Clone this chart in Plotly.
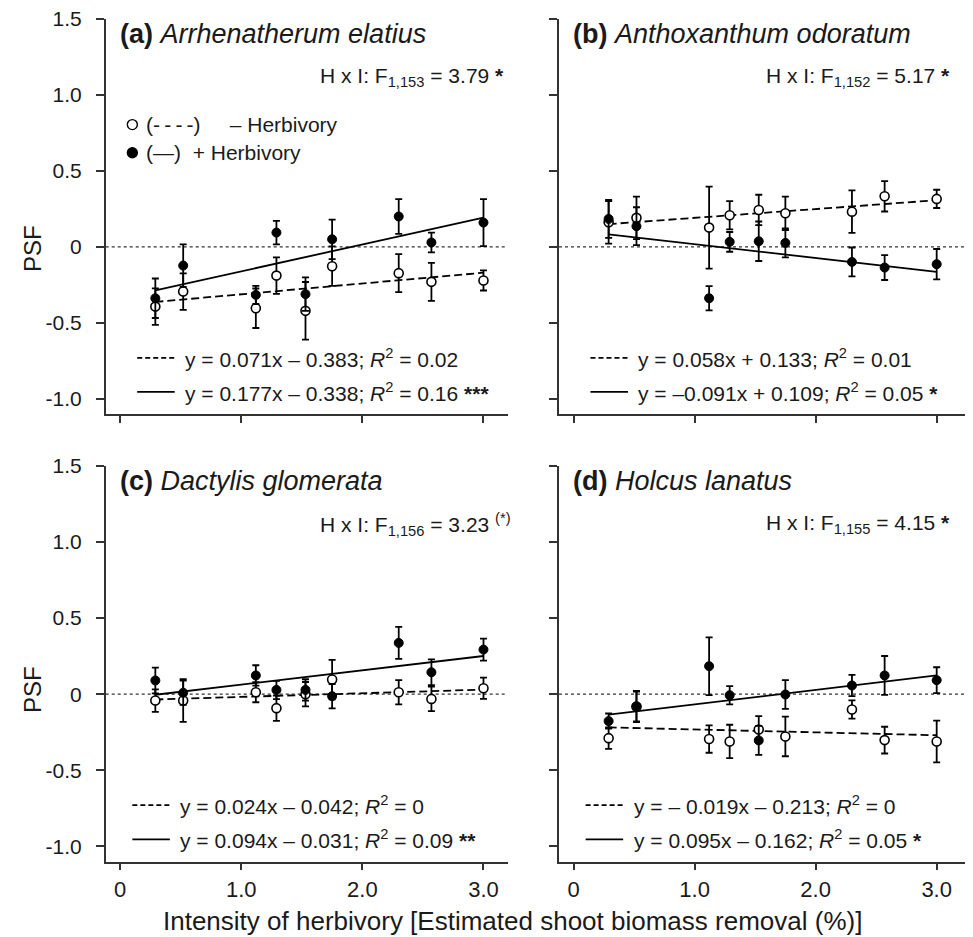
import plotly.graph_objects as go

# ---------------- data ----------------
x_int = [0.29, 0.52, 1.12, 1.29, 1.53, 1.75, 2.30, 2.57, 3.0]

a_open = [-0.393, -0.294, -0.404, -0.189, -0.421, -0.127, -0.173, -0.230, -0.221]
a_open_se = [0.12, 0.12, 0.13, 0.12, 0.19, 0.13, 0.125, 0.125, 0.066]
a_fill = [-0.338, -0.123, -0.316, 0.094, -0.311, 0.050, 0.200, 0.029, 0.160]
a_fill_se = [0.13, 0.14, 0.06, 0.077, 0.11, 0.13, 0.115, 0.065, 0.155]

b_open = [0.162, 0.191, 0.127, 0.208, 0.243, 0.221, 0.232, 0.333, 0.316]
b_open_se = [0.14, 0.14, 0.27, 0.093, 0.10, 0.11, 0.14, 0.10, 0.06]
b_fill = [0.184, 0.136, -0.338, 0.033, 0.037, 0.026, -0.099, -0.136, -0.114]
b_fill_se = [0.125, 0.125, 0.08, 0.065, 0.13, 0.095, 0.095, 0.082, 0.10]

c_open = [-0.042, -0.042, 0.013, -0.092, 0.0, 0.096, 0.013, -0.031, 0.039]
c_open_se = [0.074, 0.14, 0.066, 0.083, 0.08, 0.13, 0.08, 0.08, 0.07]
c_fill = [0.09, 0.009, 0.123, 0.028, 0.028, -0.013, 0.337, 0.144, 0.293]
c_fill_se = [0.085, 0.08, 0.067, 0.06, 0.07, 0.08, 0.105, 0.085, 0.072]

d_open = [-0.289, -0.083, -0.295, -0.311, -0.232, -0.278, -0.101, -0.302, -0.311]
d_open_se = [0.07, 0.10, 0.09, 0.11, 0.088, 0.13, 0.06, 0.088, 0.137]
d_fill = [-0.177, -0.079, 0.184, -0.007, -0.304, -0.002, 0.057, 0.123, 0.092]
d_fill_se = [0.05, 0.10, 0.19, 0.06, 0.095, 0.095, 0.07, 0.128, 0.085]

slope_open = [0.071, 0.058, 0.024, -0.019]
icpt_open = [-0.383, 0.133, -0.042, -0.213]
slope_fill = [0.177, -0.091, 0.094, 0.095]
icpt_fill = [-0.338, 0.109, -0.031, -0.162]

panel_letters = ["(a)", "(b)", "(c)", "(d)"]
species = ["Arrhenatherum elatius", "Anthoxanthum odoratum",
           "Dactylis glomerata", "Holcus lanatus"]
hxi_df = ["1,153", "1,152", "1,156", "1,155"]
hxi_F = ["3.79", "5.17", "3.23", "4.15"]
hxi_sig = ["<b>*</b>", "<b>*</b>", "<sup>(*)</sup>", "<b>*</b>"]

eq_open_text = ["y = 0.071x – 0.383", "y = 0.058x + 0.133",
                "y = 0.024x – 0.042", "y = – 0.019x – 0.213"]
r2_open = ["0.02", "0.01", "0", "0"]
eq_fill_text = ["y = 0.177x – 0.338", "y = –0.091x + 0.109",
                "y = 0.094x – 0.031", "y = 0.095x – 0.162"]
r2_fill = ["0.16", "0.05", "0.09", "0.05"]
sig_fill = ["***", "*", "**", "*"]

legend_labels = ["(-\u2009-\u2009-\u2009-)\u00a0\u00a0\u00a0\u00a0\u00a0– Herbivory",
                 "(—)\u00a0\u00a0+ Herbivory"]

y_tickvals = [1.5, 1.0, 0.5, 0, -0.5, -1.0]
y_ticktext = ["1.5", "1.0", "0.5", "0", "-0.5", "-1.0"]
x_tickvals = [0, 1, 2, 3]
x_ticktext = ["0", "1.0", "2.0", "3.0"]

y_title = "PSF"
x_title = "Intensity of herbivory [Estimated shoot biomass removal (%)]"

open_vals = [a_open, b_open, c_open, d_open]
open_se = [a_open_se, b_open_se, c_open_se, d_open_se]
fill_vals = [a_fill, b_fill, c_fill, d_fill]
fill_se = [a_fill_se, b_fill_se, c_fill_se, d_fill_se]

# ---------------- figure ----------------
# the page body has an 8px margin, so the figure is sized to fit the window
OFF = 8
W, H = 973 - OFF, 937 - OFF


def px(X):
    return (X - OFF) / W


def py(Y):
    return 1 - (Y - OFF) / H


FONT = "Liberation Sans, Arial, Helvetica, sans-serif"
INK = "#1a1a1a"
AX = "#333333"

fig = go.Figure()

xdoms = [[px(105.7), px(507.7)], [px(559), 1.0]]
ydoms = [[py(414), py(19)], [py(861.5), py(466)]]
xranges = [[-0.12, 3.2], [-0.12, 3.3]]
hxi_right_px = [506, 952, 513, 952]
hxi_y_px = [77, 77, 524, 524]

layout_axes = {}
for i in range(4):
    row, col = i // 2, i % 2
    sfx = "" if i == 0 else str(i + 1)
    xa, ya = "x" + sfx, "y" + sfx

    xlo, xhi = min(x_int), max(x_int)
    # regression lines
    fig.add_trace(go.Scatter(
        x=[xlo, xhi], y=[slope_open[i] * xlo + icpt_open[i], slope_open[i] * xhi + icpt_open[i]],
        mode="lines", line=dict(color="black", width=1.8, dash="8px,4px"),
        xaxis=xa, yaxis=ya, showlegend=False, hoverinfo="skip"))
    fig.add_trace(go.Scatter(
        x=[xlo, xhi], y=[slope_fill[i] * xlo + icpt_fill[i], slope_fill[i] * xhi + icpt_fill[i]],
        mode="lines", line=dict(color="black", width=1.8),
        xaxis=xa, yaxis=ya, showlegend=False, hoverinfo="skip"))
    # open points (- herbivory)
    fig.add_trace(go.Scatter(
        x=x_int, y=open_vals[i], mode="markers",
        marker=dict(symbol="circle", size=9, color="white", line=dict(color="black", width=1.6)),
        error_y=dict(type="data", array=open_se[i], visible=True, color="black",
                     thickness=1.8, width=3.5),
        xaxis=xa, yaxis=ya, showlegend=False))
    # filled points (+ herbivory)
    fig.add_trace(go.Scatter(
        x=x_int, y=fill_vals[i], mode="markers",
        marker=dict(symbol="circle", size=9, color="black", line=dict(color="black", width=1)),
        error_y=dict(type="data", array=fill_se[i], visible=True, color="black",
                     thickness=1.8, width=3.5),
        xaxis=xa, yaxis=ya, showlegend=False))

    layout_axes["xaxis" + sfx] = dict(
        domain=xdoms[col], range=xranges[col], anchor=ya,
        showline=True, linecolor=AX, linewidth=1.5, mirror=False,
        ticks="outside", ticklen=7, tickwidth=1.5, tickcolor=AX,
        tickvals=x_tickvals, ticktext=x_ticktext, showticklabels=(row == 1),
        tickfont=dict(family=FONT, size=22, color=INK), ticklabeloverflow="allow",
        showgrid=False, zeroline=False, automargin=False, fixedrange=True)
    layout_axes["yaxis" + sfx] = dict(
        domain=ydoms[row], range=[-1.1, 1.5], anchor=xa,
        showline=True, linecolor=AX, linewidth=1.5, mirror=False,
        ticks="outside", ticklen=8, tickwidth=1.5, tickcolor=AX,
        tickvals=y_tickvals, ticktext=y_ticktext, showticklabels=(col == 0),
        tickfont=dict(family=FONT, size=21, color=INK), ticklabelstandoff=10,
        ticklabeloverflow="allow",
        showgrid=False, zeroline=False, automargin=False, fixedrange=True)

    # dotted zero reference
    fig.add_shape(type="line", xref=xa + " domain", x0=0, x1=1, yref=ya, y0=0, y1=0,
                  line=dict(color=AX, width=1.2, dash="3px,3px"), layer="below")

    # title
    fig.add_annotation(xref=xa, yref=ya, x=-0.02, y=1.40, xanchor="left", yanchor="middle",
                       text=f"<b>{panel_letters[i]}</b> <i>{species[i]}</i>", showarrow=False,
                       font=dict(family=FONT, size=27, color=INK))
    # H x I stat
    fig.add_annotation(xref="paper", yref="paper", x=px(hxi_right_px[i]), y=py(hxi_y_px[i]),
                       xanchor="right", yanchor="middle",
                       text=f"H x I: F<sub>{hxi_df[i]}</sub> = {hxi_F[i]} {hxi_sig[i]}",
                       showarrow=False, font=dict(family=FONT, size=21, color=INK))

    # equation keys
    kx0, kx1, tx = (0.14, 0.45, 0.52) if row == 0 else (0.10, 0.41, 0.48)
    for (yy, dash, eq, r2, sg) in [(-0.73, "5px,3px", eq_open_text[i], r2_open[i], ""),
                                   (-0.955, "solid", eq_fill_text[i], r2_fill[i], sig_fill[i])]:
        fig.add_shape(type="line", xref=xa, yref=ya, x0=kx0, x1=kx1, y0=yy, y1=yy,
                      line=dict(color="black", width=1.8, dash=dash))
        txt = f"{eq}; <i>R</i><sup>2</sup> = {r2}" + (f" <b>{sg}</b>" if sg else "")
        fig.add_annotation(xref=xa, yref=ya, x=tx, y=yy, xanchor="left", yanchor="middle",
                           text=txt, showarrow=False,
                           font=dict(family=FONT, size=21, color=INK))

# symbol legend in panel (a)
for (yy, fillc, lab) in [(0.805, "white", legend_labels[0]), (0.62, "black", legend_labels[1])]:
    fig.add_shape(type="circle", xref="x", yref="y", xsizemode="pixel", ysizemode="pixel",
                  xanchor=0.10, yanchor=yy, x0=-5, x1=5, y0=-5, y1=5,
                  fillcolor=fillc, line=dict(color="black", width=1.4))
    fig.add_annotation(xref="x", yref="y", x=0.20, y=yy, xanchor="left", yanchor="middle",
                       text=lab, showarrow=False, font=dict(family=FONT, size=21, color=INK))

# axis titles
for yp in [249, 690]:
    fig.add_annotation(xref="paper", yref="paper", x=px(32), y=py(yp), xanchor="center",
                       yanchor="middle", text=y_title, textangle=-90, showarrow=False,
                       font=dict(family=FONT, size=24, color=INK))
fig.add_annotation(xref="paper", yref="paper", x=px(512), y=py(921), xanchor="center",
                   yanchor="middle", text=x_title, showarrow=False,
                   font=dict(family=FONT, size=26, color=INK))

fig.update_layout(
    width=W, height=H, template=None,
    margin=dict(l=0, r=0, t=0, b=0),
    paper_bgcolor="white", plot_bgcolor="white",
    showlegend=False, font=dict(family=FONT, color=INK),
    **layout_axes)

fig.write_html("out.html")
